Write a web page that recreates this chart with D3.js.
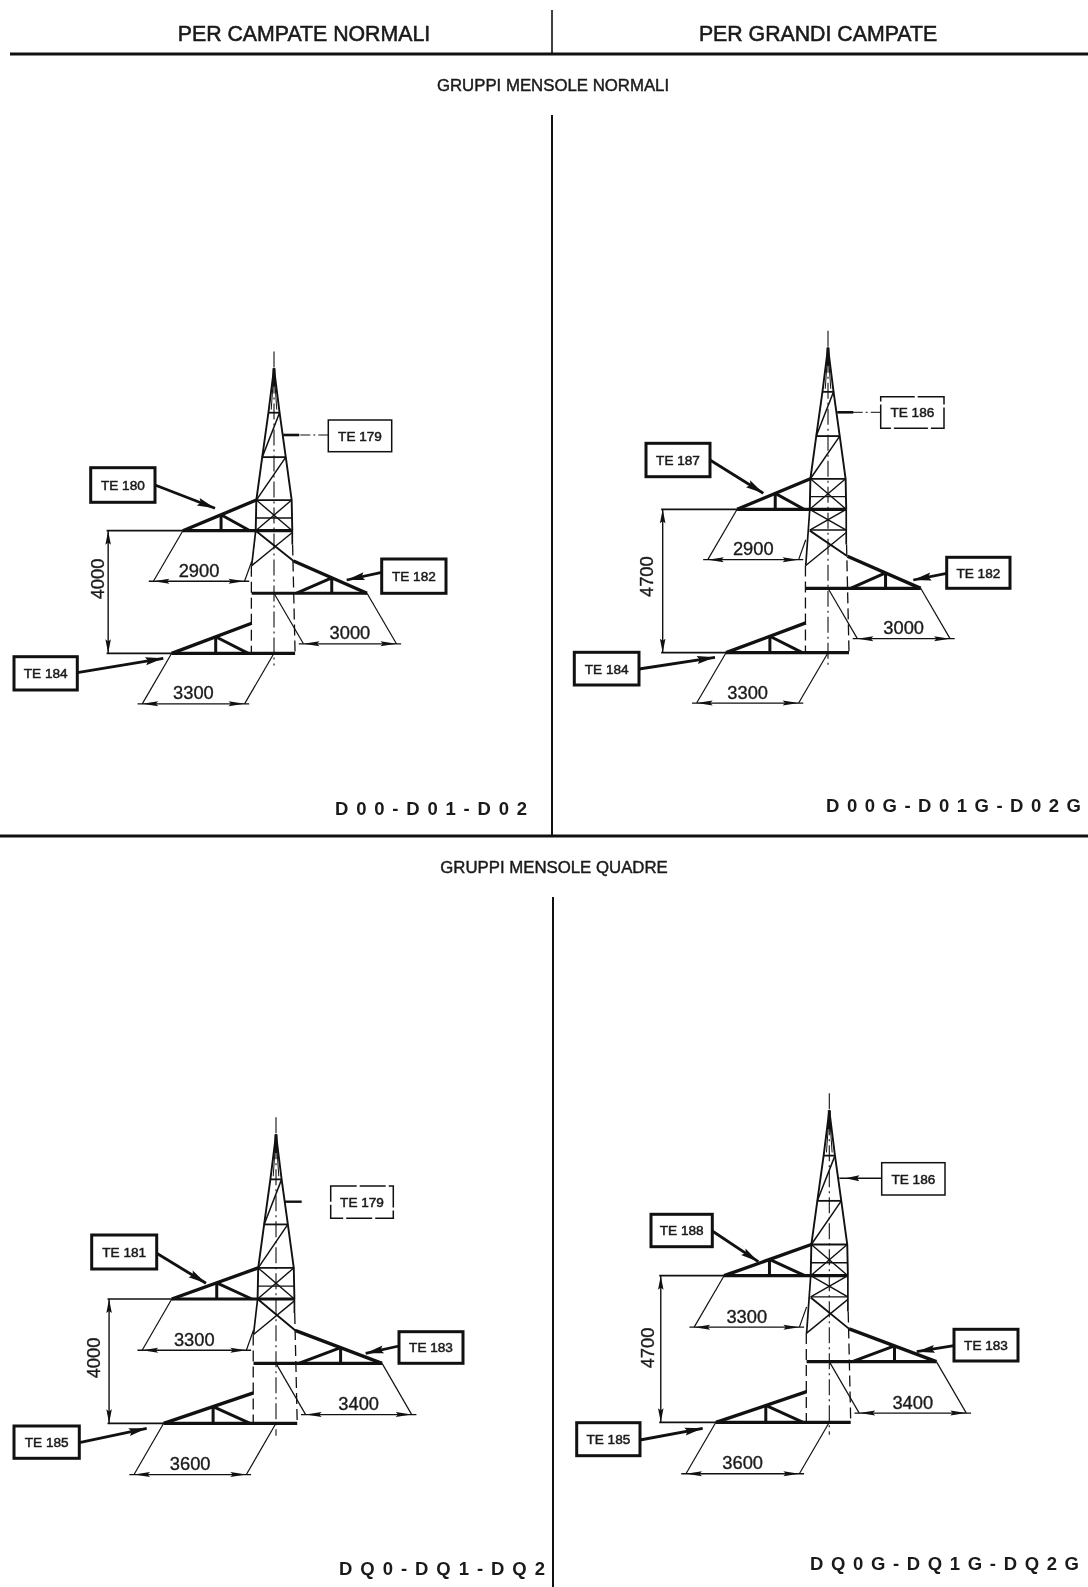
<!DOCTYPE html>
<html>
<head>
<meta charset="utf-8">
<script src="https://cdn.jsdelivr.net/npm/d3@7"></script>
<style>
  html, body { margin: 0; padding: 0; background: #fff; overflow: hidden; }
  svg { display: block; filter: blur(0.4px); }
  text { font-family: "Liberation Sans", Arial, sans-serif; fill: #1a1a1a; }
</style>
</head>
<body>
<div id="chart"></div>
<script>
// --- Data (all lengths in mm) ---
const columnTitles = ['PER CAMPATE NORMALI', 'PER GRANDI CAMPATE'];
const groupTitles = ['GRUPPI MENSOLE NORMALI', 'GRUPPI MENSOLE QUADRE'];
const panelCodes = ['D00-D01-D02', 'D00G-D01G-D02G', 'DQ0-DQ1-DQ2', 'DQ0G-DQ1G-DQ2G'];
const armSpacing = [4000, 4700, 4000, 4700];
const upperSpan = [2900, 2900, 3300, 3300];
const rightSpan = [3000, 3000, 3400, 3400];
const lowerSpan = [3300, 3300, 3600, 3600];
const rightArmHeight = [1960, 2110, 1930, 1945];
const calloutTags = [
    ['TE 179', 'TE 180', 'TE 182', 'TE 184'],
    ['TE 186', 'TE 187', 'TE 182', 'TE 184'],
    ['TE 179', 'TE 181', 'TE 183', 'TE 185'],
    ['TE 186', 'TE 188', 'TE 183', 'TE 185']
];

// Tower outline: height above the upper arm and half width
const towerLevels = [5300, 3850, 2400, 1000, 0];
const towerHalfWidth = [0, 180, 380, 570, 590];

// --- Layout of the sheet (pixels) ---
const W = 1088, H = 1587;
const axisPx = [274, 828, 276, 829.3];
const lowerArmPx = [653.3, 652.7, 1423.3, 1422.3];
const upperArmPx = [530.7, 509.3, 1299, 1275.7];
const pxPerMm = [0.0310, 0.0309, 0.0312, 0.0315];
const spacingLabelPx = [[97, 579], [646.7, 576.7], [93, 1358], [647, 1348]];
const codeLayout = [[335, 527, 808], [826, 1081, 805], [339, 545, 1568], [810, 1079, 1563]];
// box x0, y0, x1, y1, arrow x0, y0, x1, y1, leader kind
const calloutLayout = [
    [[328.3, 420, 391.7, 451.7, 328.3, 435, 283.3, 435, 'dashdot'],
     [90.7, 467.7, 155, 502.3, 155, 485, 215, 508.3, 'heavy'],
     [381.7, 559, 446, 593.3, 381.7, 572.3, 346.7, 580, 'heavy'],
     [14, 656.7, 77.3, 690, 77.3, 672.7, 163.3, 658.3, 'heavy']],
    [[880.7, 396.7, 944, 428.3, 880.7, 412.3, 837.3, 412.3, 'dashdot'],
     [646, 443.3, 710, 476.7, 710, 460, 763.3, 493.3, 'heavy'],
     [946.7, 557.3, 1010, 588.3, 946.7, 573.3, 913.3, 580, 'heavy'],
     [574.3, 652.3, 639, 685, 639, 669, 715, 657.3, 'heavy']],
    [[330.7, 1186, 393.3, 1218.3, 301.7, 1201.7, 285, 1201.7, 'stub'],
     [91.7, 1235, 156.7, 1269, 156.7, 1253.3, 206, 1283.3, 'heavy'],
     [399, 1331.7, 463, 1363.3, 399, 1346, 365.7, 1353.3, 'heavy'],
     [14, 1426, 79.3, 1458.3, 79.3, 1442.7, 146.7, 1428.3, 'heavy']],
    [[881.7, 1162.7, 945, 1195, 881.7, 1178.3, 839.3, 1178.3, 'thin'],
     [651, 1214.3, 712.3, 1246.7, 712.3, 1231, 758.3, 1261.7, 'heavy'],
     [954, 1329.3, 1018, 1361, 954, 1345.7, 916.7, 1351.7, 'heavy'],
     [576.7, 1422.7, 640, 1455.7, 640, 1440, 702.7, 1428.3, 'heavy']]
];
const boxDash = [null, '34,3', '26,3', null];

const INK = '#111';
const svg = d3.select('#chart').append('svg').attr('width', W).attr('height', H);

function rule(x1, y1, x2, y2, w, dash) {
    svg.append('line')
        .attr('x1', x1).attr('y1', y1).attr('x2', x2).attr('y2', y2)
        .attr('stroke', INK).attr('stroke-width', w)
        .attr('stroke-dasharray', dash || null);
}

function label(str, x, y, size, opts) {
    opts = opts || {};
    const t = svg.append('text')
        .attr('x', x).attr('y', y).attr('dy', '0.36em')
        .attr('text-anchor', opts.anchor || 'middle')
        .attr('font-size', size)
        .attr('font-weight', opts.weight || 'normal')
        .text(str);
    if (opts.stroke) t.attr('stroke', '#1a1a1a').attr('stroke-width', opts.stroke);
    if (opts.length) t.attr('textLength', opts.length).attr('lengthAdjust', 'spacing');
    if (opts.rotate) {
        t.attr('transform', `rotate(-90,${x},${y})`);
    }
    return t;
}

// slim filled arrow head with its point on (x2,y2)
function arrowHead(x1, y1, x2, y2, len, wid) {
    const a = Math.atan2(y2 - y1, x2 - x1);
    const pts = [[0, 0], [-len, -wid / 2], [-len * 0.85, 0], [-len, wid / 2]].map(p => [
        x2 + p[0] * Math.cos(a) - p[1] * Math.sin(a),
        y2 + p[0] * Math.sin(a) + p[1] * Math.cos(a)
    ]);
    svg.append('path').attr('d', d3.line()(pts) + 'Z').attr('fill', INK);
}

// --- Sheet frame ---
rule(10, 54, W, 54, 2.8);
rule(0, 836, W, 836, 2.8);
rule(552, 10, 552, 54, 1.6);
rule(552, 115, 552, 836, 2);
rule(553, 897, 553, H, 2);
label(columnTitles[0], 304, 33, 21.3, { stroke: 0.55 });
label(columnTitles[1], 818, 33, 21.3, { stroke: 0.55 });
label(groupTitles[0], 553, 85, 16.8, { stroke: 0.45 });
label(groupTitles[1], 554, 867, 16.8, { stroke: 0.45 });

// One tower panel, model coordinates in mm: x from the tower axis, y from the lower arm
function drawPanel(i) {
    const S = armSpacing[i];
    const R = rightArmHeight[i];
    const k = pxPerMm[i];
    const x = d3.scaleLinear().domain([0, 1000]).range([axisPx[i], axisPx[i] + k * 1000]);
    const y = d3.scaleLinear().domain([0, S]).range([lowerArmPx[i], upperArmPx[i]]);
    const seg = (x1, y1, x2, y2, w, dash) => rule(x(x1), y(y1), x(x2), y(y2), w, dash);
    const DASH = '11,5';

    const extra = S - 4000;   // tall towers have one more lattice bay under the upper arm

    // centre line
    seg(0, S + 5850, 0, -400, 1.1, '16,4,2,4');

    // legs of the tower top
    [-1, 1].forEach(side => {
        const pts = towerLevels.map((h, j) => [x(side * towerHalfWidth[j]), y(S + h)]);
        svg.append('path')
            .attr('d', d3.line().curve(d3.curveLinear)(pts))
            .attr('fill', 'none').attr('stroke', INK).attr('stroke-width', 1.9);
    });
    // spire
    seg(0, S + 5250, -90, S + 3950, 1);
    seg(0, S + 5250, 90, S + 3950, 1);
    seg(0, S + 5300, 0, S + 4700, 3);
    // horizontals
    towerLevels.slice(1, 4).forEach((h, j) => {
        seg(-towerHalfWidth[j + 1], S + h, towerHalfWidth[j + 1], S + h, 1.8);
    });
    seg(-580, S + 415, 580, S + 415, 1.3);
    // bracing
    seg(-380, S + 2400, 180, S + 3850, 1.5);
    seg(-570, S + 1000, 380, S + 2400, 1.5);
    seg(-570, S + 1000, 590, S, 1.4);
    seg(570, S + 1000, -590, S, 1.4);

    // lattice below the upper arm
    if (extra > 0) {
        seg(-590, S, 590, S - 680, 1.4);
        seg(590, S, -590, S - 680, 1.4);
        seg(-590, S - 680, 590, S - 680, 1.4);
    }
    const legEnd = S - extra - 1140;
    seg(-590, S, -720, legEnd, 1.7);
    seg(590, S, 590, S - extra - 450, 1.7);
    seg(-720, legEnd, 590, S - extra - 60, 1.4);
    seg(-590, S - extra, 630, R + 1050, 1.9);

    // hidden legs
    seg(-730, legEnd, -730, 0, 1.3, DASH);
    seg(600, S - extra - 450, 680, 0, 1.3, DASH);

    function arm(tip, rootX, rise, base, frac, diagEnd) {
        seg(tip, base, rootX, base + rise, 3.4);
        const vx = tip + frac * (rootX - tip);
        const vh = rise * frac;
        seg(vx, base, vx, base + vh, 3);
        seg(vx, base + vh, diagEnd, base, 3);
    }

    // upper arm, slightly overhanging its nominal span
    const upperTip = -(upperSpan[i] + 40);
    seg(-5400, S, upperTip, S, 1.7);
    seg(upperTip, S, 590, S, 3.2);
    arm(upperTip, -570, 1000, S, 0.52, -775);

    // right arm
    seg(-720, R, rightSpan[i], R, 3.2);
    arm(rightSpan[i], 630, 1050, R, 0.48, 730);

    // lower arm
    seg(-5400, 0, -lowerSpan[i], 0, 1.7);
    seg(-lowerSpan[i], 0, 680, 0, 3.2);
    arm(-lowerSpan[i], -720, 980, 0, 0.55, -830);

    // span dimensions: sheared by the axonometric view
    const skew = 950, drop = 1650;
    function spanDim(x0, x1, base, text, shear, stopAtLeg) {
        const dy = base - drop;
        seg(x0, base, x0 + shear, dy, 1.2);
        if (stopAtLeg) seg(x1 + shear, dy, stopAtLeg, base - 1000, 1.2);
        else seg(x1, base, x1 + shear, dy, 1.2);
        const a = x0 + shear, b = x1 + shear;
        seg(a - 150, dy, b + 150, dy, 1.3);
        const dir = b > a ? 1 : -1;
        arrowHead(x(a + dir * 500), y(dy), x(a), y(dy), 16, 5);
        arrowHead(x(b - dir * 500), y(dy), x(b), y(dy), 16, 5);
        label(String(text), (x(a) + x(b)) / 2, y(dy) - 11, 18.3, { stroke: 0.35 });
    }
    spanDim(upperTip, 0, S, upperSpan[i], -skew, -720);
    spanDim(0, rightSpan[i], R, rightSpan[i], skew);
    spanDim(-lowerSpan[i], 0, 0, lowerSpan[i], -skew);

    // arm spacing dimension
    seg(-5350, 0, -5350, S, 1.4);
    arrowHead(x(-5350), y(500), x(-5350), y(0), 14, 5.5);
    arrowHead(x(-5350), y(S - 500), x(-5350), y(S), 14, 5.5);
    label(String(S), spacingLabelPx[i][0], spacingLabelPx[i][1], 18.3, { rotate: true, stroke: 0.35 });

    // TE callouts
    calloutTags[i].forEach((tag, j) => {
        const c = calloutLayout[i][j];
        const light = j === 0;
        svg.append('rect')
            .attr('x', c[0]).attr('y', c[1])
            .attr('width', c[2] - c[0]).attr('height', c[3] - c[1])
            .attr('fill', '#fff').attr('stroke', INK)
            .attr('stroke-width', light ? 1.5 : 3)
            .attr('stroke-dasharray', light ? boxDash[i] : null);
        label(tag, (c[0] + c[2]) / 2, (c[1] + c[3]) / 2, 13.6, { stroke: 0.5 });
        const kind = c[8];
        if (kind === 'heavy') {
            rule(c[4], c[5], c[6], c[7], 2.8);
            arrowHead(c[4], c[5], c[6], c[7], 18, 8);
        } else if (kind === 'dashdot') {
            rule(c[4], c[5], c[6], c[7], 1, '10,3,2,3');
            rule(c[6], c[7], c[6] + 16, c[7], 2.6);
        } else if (kind === 'thin') {
            rule(c[4], c[5], c[6], c[7], 1.4);
            arrowHead(c[4], c[5], c[6] + 6, c[7], 14, 6);
        } else {
            rule(c[4], c[5], c[6], c[7], 2.4);
        }
    });

    // family code
    const cl = codeLayout[i];
    label(panelCodes[i], cl[0], cl[2], 18.5, { anchor: 'start', weight: 'bold', length: cl[1] - cl[0] });
}

panelCodes.forEach((_, i) => drawPanel(i));
</script>
</body>
</html>
